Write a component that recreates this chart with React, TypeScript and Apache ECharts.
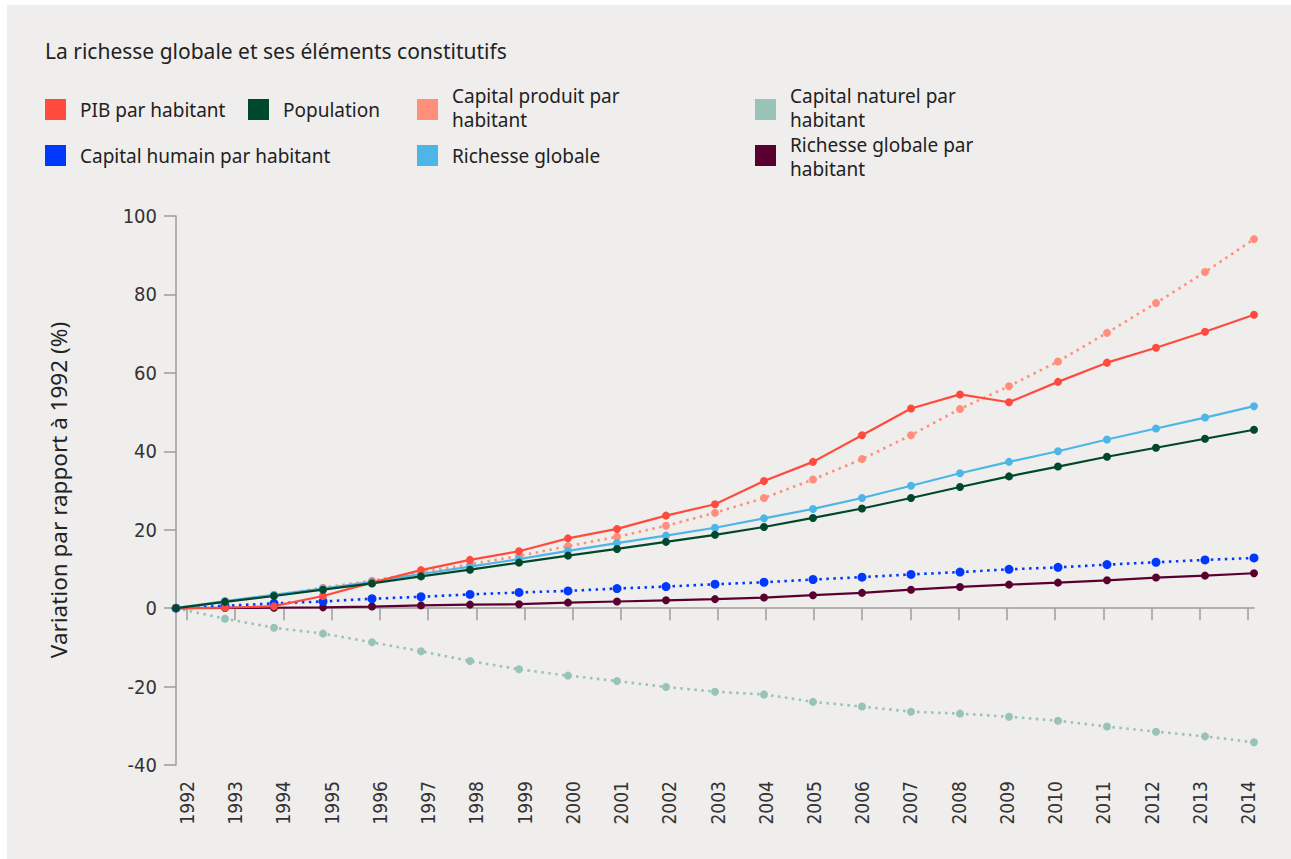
import React, { useEffect, useRef } from "react";
import * as echarts from "echarts";

const years = ["1992","1993","1994","1995","1996","1997","1998","1999","2000","2001","2002","2003","2004","2005","2006","2007","2008","2009","2010","2011","2012","2013","2014"];

const pibParHabitant = [0, 0.1, 0.5, 3.1, 6.5, 9.7, 12.3, 14.5, 17.8, 20.2, 23.6, 26.5, 32.4, 37.3, 44.1, 50.9, 54.5, 52.5, 57.7, 62.6, 66.4, 70.5, 74.8];
const population = [0, 1.6, 3.1, 4.7, 6.3, 8.1, 9.8, 11.6, 13.4, 15.1, 16.9, 18.7, 20.7, 23.0, 25.4, 28.1, 30.9, 33.6, 36.1, 38.6, 40.9, 43.2, 45.5];
const capitalProduit = [0, 1.6, 3.3, 5.2, 7.0, 9.2, 11.2, 13.3, 15.8, 18.2, 21.0, 24.3, 28.1, 32.8, 38.0, 44.1, 50.8, 56.6, 62.9, 70.2, 77.8, 85.7, 94.1];
const richesseGlobale = [0, 1.8, 3.4, 5.0, 6.7, 8.7, 10.6, 12.5, 14.6, 16.6, 18.5, 20.5, 22.9, 25.3, 28.1, 31.2, 34.4, 37.3, 40.0, 43.0, 45.8, 48.6, 51.5];
const capitalHumain = [0, 0.6, 1.2, 1.7, 2.4, 2.9, 3.5, 4.0, 4.4, 5.0, 5.5, 6.1, 6.6, 7.3, 7.9, 8.6, 9.2, 9.9, 10.4, 11.1, 11.7, 12.3, 12.8];
const richesseParHabitant = [0, 0.05, 0.1, 0.2, 0.4, 0.7, 0.9, 1.0, 1.4, 1.7, 2.0, 2.3, 2.7, 3.3, 3.9, 4.7, 5.4, 6.0, 6.5, 7.1, 7.8, 8.3, 8.9];
const capitalNaturel = [0, -2.7, -5.0, -6.5, -8.7, -11.0, -13.5, -15.6, -17.2, -18.6, -20.1, -21.3, -22.0, -23.9, -25.1, -26.4, -26.9, -27.7, -28.7, -30.2, -31.5, -32.7, -34.2];

const yTicks = { min: -40, max: 100, interval: 20 };

const TITLE = "La richesse globale et ses éléments constitutifs";
const Y_NAME = "Variation par rapport à 1992 (%)";

const C = {
  pib: "#FF4B3E",
  pop: "#00482B",
  prod: "#FF8F7A",
  nat: "#99C2B8",
  hum: "#0038FF",
  rg: "#4DB6E6",
  rgh: "#5A0030",
};

const FONT = '"Noto Sans", sans-serif';
const NARROW = '"Liberation Sans Narrow", "DejaVu Sans Condensed", sans-serif';
const AXIS = "#9c9c9c";

const legendItems = [
  { label: "PIB par habitant", color: C.pib, x: 45, y: 99, ty: 110 },
  { label: "Population", color: C.pop, x: 248, y: 99, ty: 110 },
  { label: "Capital produit par\nhabitant", color: C.prod, x: 417, y: 99, ty: 108 },
  { label: "Capital naturel par\nhabitant", color: C.nat, x: 755, y: 99, ty: 108 },
  { label: "Capital humain par habitant", color: C.hum, x: 45, y: 145, ty: 156 },
  { label: "Richesse globale", color: C.rg, x: 417, y: 145, ty: 156 },
  { label: "Richesse globale par\nhabitant", color: C.rgh, x: 755, y: 145, ty: 157 },
];

function lineSeries(name: string, data: number[], color: string, dotted: boolean, size = 8) {
  return {
    name,
    type: "line",
    data,
    xAxisIndex: 0,
    yAxisIndex: 0,
    symbol: "circle",
    symbolSize: size,
    showSymbol: true,
    itemStyle: { color },
    lineStyle: dotted
      ? { color, width: 2.6, type: [2.5, 4.5], cap: "butt" }
      : { color, width: 2.2 },
  };
}

export default function App() {
  const ref = useRef<HTMLDivElement>(null);
  useEffect(() => {
    if (!ref.current) return;
    const chart = echarts.init(ref.current, null, { renderer: "svg" });
    const graphic: any[] = [
      { type: "rect", z: -10, silent: true, shape: { x: 7, y: 5, width: 1284, height: 854 }, style: { fill: "#EFEEEC" } },
      {
        type: "text", x: 45, y: 51,
        style: { text: TITLE, fill: "#222", fontSize: 21, fontFamily: FONT, textAlign: "left", textVerticalAlign: "middle", align: "left", verticalAlign: "middle" },
      },
      {
        type: "text", x: 58, y: 490, rotation: Math.PI / 2,
        style: { text: Y_NAME, fill: "#222", fontSize: 22.5, fontFamily: FONT, textAlign: "center", textVerticalAlign: "middle", align: "center", verticalAlign: "middle" },
      },
    ];
    legendItems.forEach((it) => {
      graphic.push({ type: "rect", shape: { x: it.x, y: it.y, width: 21, height: 21 }, style: { fill: it.color } });
      graphic.push({
        type: "text", x: it.x + 35, y: it.ty,
        style: { text: it.label, fill: "#222", fontSize: 19, lineHeight: 24.5, fontFamily: FONT, textAlign: "left", textVerticalAlign: "middle", align: "left", verticalAlign: "middle" },
      });
    });

    const option: any = {
      animation: false,
      backgroundColor: "#ffffff",
      graphic,
      grid: [
        { left: 176, right: 37, top: 216, height: 549 },
        { left: 187, right: 43, top: 216, height: 549 },
      ],
      xAxis: [
        {
          type: "category", gridIndex: 0, data: years, boundaryGap: false,
          axisLine: { show: true, lineStyle: { color: AXIS, width: 1.5 } },
          axisTick: { show: false }, axisLabel: { show: false }, splitLine: { show: false },
        },
        {
          type: "category", gridIndex: 1, data: years, boundaryGap: false,
          axisLine: { show: false },
          axisTick: { show: true, length: 12, lineStyle: { color: AXIS, width: 1.5 } },
          axisLabel: { rotate: 90, margin: 16, fontSize: 19, color: "#333", fontFamily: NARROW, interval: 0 },
          splitLine: { show: false },
        },
      ],
      yAxis: [
        {
          type: "value", gridIndex: 0, min: yTicks.min, max: yTicks.max, interval: yTicks.interval,
          axisLine: { show: true, lineStyle: { color: AXIS, width: 1.5 } },
          axisTick: { show: true, length: 12, lineStyle: { color: AXIS, width: 1.5 } },
          splitLine: { show: false },
          axisLabel: { margin: 19, fontSize: 20, color: "#333", fontFamily: NARROW },
        },
        { type: "value", gridIndex: 1, min: yTicks.min, max: yTicks.max, interval: yTicks.interval, show: false },
      ],
      series: [
        lineSeries("Capital naturel par habitant", capitalNaturel, C.nat, true),
        lineSeries("Richesse globale par habitant", richesseParHabitant, C.rgh, false),
        lineSeries("Capital humain par habitant", capitalHumain, C.hum, true, 9),
        lineSeries("Capital produit par habitant", capitalProduit, C.prod, true),
        lineSeries("Richesse globale", richesseGlobale, C.rg, false),
        lineSeries("PIB par habitant", pibParHabitant, C.pib, false),
        lineSeries("Population", population, C.pop, false),
      ],
    };
    chart.setOption(option);
    return () => chart.dispose();
  }, []);
  return <div ref={ref} style={{ position: "absolute", left: 0, top: 0, width: 1291, height: 859 }} />;
}
